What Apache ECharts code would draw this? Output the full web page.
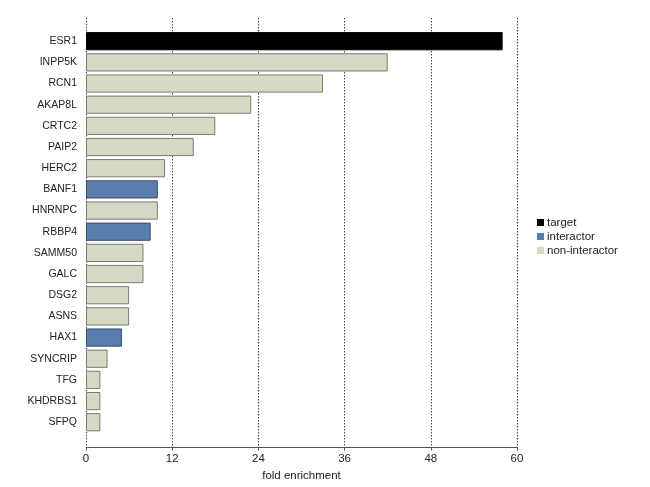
<!DOCTYPE html>
<html>
<head>
<meta charset="utf-8">
<script src="https://cdn.jsdelivr.net/npm/echarts@6/dist/echarts.min.js"></script>
<style>html,body{margin:0;padding:0;background:#fff}#c{width:650px;height:487px}</style>
</head>
<body>
<div id="c"></div>
<script>
var categories = ["ESR1","INPP5K","RCN1","AKAP8L","CRTC2","PAIP2","HERC2","BANF1","HNRNPC","RBBP4","SAMM50","GALC","DSG2","ASNS","HAX1","SYNCRIP","TFG","KHDRBS1","SFPQ"];
var values = [58,42,33,23,18,15,11,10,10,9,8,8,6,6,5,3,2,2,2];
var groups = ["target","non-interactor","non-interactor","non-interactor","non-interactor","non-interactor","non-interactor","interactor","non-interactor","interactor","non-interactor","non-interactor","non-interactor","non-interactor","interactor","non-interactor","non-interactor","non-interactor","non-interactor"];
var groupNames = ["target","interactor","non-interactor"];
var xTicks = [0,12,24,36,48,60];

var colors = {"target":"#000000","interactor":"#5a7fad","non-interactor":"#d6dac4"};
var borders = {"target":"#000000","interactor":"#3c4d66","non-interactor":"#7a7a72"};
var FONT = "Liberation Sans, Arial, sans-serif";

var series = groupNames.map(function(g){
  return {
    name: g, type: 'bar', stack: 'all', xAxisIndex: 1, yAxisIndex: 1,
    barCategoryGap: '14%',
    itemStyle: {color: colors[g], borderColor: borders[g], borderWidth: 1},
    emphasis: {disabled: true},
    data: values.map(function(v,i){ return groups[i]===g ? v : '-'; })
  };
});

var chart = echarts.init(document.getElementById('c'), null, {renderer:'canvas'});
chart.setOption({
  animation: false,
  backgroundColor: '#fff',
  grid: [
    {left: 86, right: 133, top: 18, bottom: 39.5},
    {left: 86, right: 133, top: 30.6, bottom: 54.2}
  ],
  xAxis: [
    {gridIndex: 0, type: 'value', min: xTicks[0], max: xTicks[xTicks.length-1], interval: 12,
     name: 'fold enrichment', nameLocation: 'middle', nameGap: 20,
     nameTextStyle: {fontFamily: FONT, fontSize: 11.5, color: '#222'},
     axisLine: {show: true, lineStyle: {color: '#555', width: 1}},
     axisTick: {show: true, length: 3, lineStyle: {color: '#555'}},
     axisLabel: {fontFamily: FONT, fontSize: 11.5, color: '#222', margin: 5},
     splitLine: {show: true, lineStyle: {color: '#444', type: [1.5, 1.5], width: 1}}},
    {gridIndex: 1, type: 'value', min: xTicks[0], max: xTicks[xTicks.length-1], interval: 12, show: false}
  ],
  yAxis: [
    {gridIndex: 0, type: 'value', min: 0, max: 1, show: false},
    {gridIndex: 1, type: 'category', data: categories, inverse: true,
     axisLine: {show: false}, axisTick: {show: false},
     axisLabel: {fontFamily: FONT, fontSize: 10.5, color: '#222', margin: 9}}
  ],
  legend: {
    orient: 'vertical', left: 532, top: 211,
    data: groupNames,
    icon: 'rect', itemWidth: 7, itemHeight: 7, itemGap: 1,
    itemStyle: {borderWidth: 0},
    textStyle: {fontFamily: FONT, fontSize: 11.5, color: '#222', lineHeight: 13, padding: [0,0,0,-2]},
    selectedMode: false
  },
  series: series
});
</script>
</body>
</html>
